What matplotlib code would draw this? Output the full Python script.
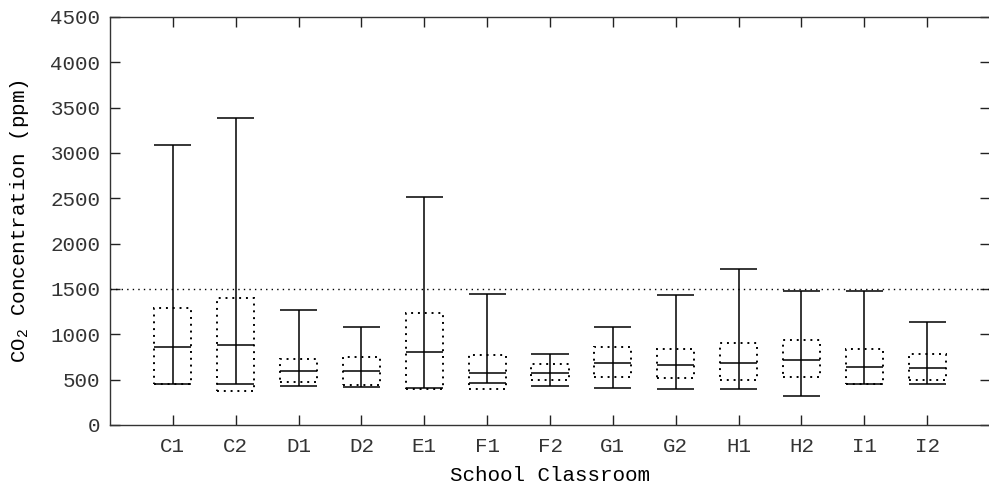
import numpy as np
import matplotlib
matplotlib.use("Agg")
import matplotlib.pyplot as plt

# CO2 concentration per classroom: min, lower quartile, median, upper quartile, max
rooms = ["C1", "C2", "D1", "D2", "E1", "F1", "F2", "G1", "G2", "H1", "H2", "I1", "I2"]
co2_min = [452, 449, 434, 419, 404, 460, 434, 404, 393, 393, 324, 449, 452]
co2_q1 = [450, 375, 478, 437, 393, 394, 496, 526, 515, 496, 526, 452, 496]
co2_median = [860, 882, 592, 592, 802, 577, 577, 688, 662, 688, 717, 643, 632]
co2_q3 = [1287, 1397, 724, 754, 1232, 772, 669, 857, 838, 901, 937, 838, 780]
co2_max = [3085, 3385, 1268, 1085, 2510, 1449, 787, 1085, 1437, 1721, 1482, 1482, 1140]
limit = 1500

plt.rcParams["font.family"] = ["Liberation Mono", "DejaVu Sans Mono"]
plt.rcParams["font.size"] = 15
plt.rcParams["mathtext.fontset"] = "custom"
plt.rcParams["mathtext.rm"] = "Liberation Mono"
plt.rcParams["text.color"] = "#333333"

fig = plt.figure(figsize=(9.89, 4.87), dpi=100)
ax = fig.add_axes([110 / 989, 62 / 487, 880 / 989, 408 / 487])

pos = np.arange(1, len(rooms) + 1)
w = 0.59

ax.axhline(limit, color="black", linestyle=(0, (1, 3)), linewidth=1.0)

# quartile boxes (dotted), median, whiskers with caps
ax.bar(pos, np.array(co2_q3) - np.array(co2_q1), bottom=co2_q1, width=w,
       fill=False, edgecolor="black", linestyle=(0, (1, 2.5)), linewidth=1.4)
ax.hlines(co2_median, pos - w / 2, pos + w / 2, color="black", linewidth=1.1)
ax.vlines(pos, co2_min, co2_max, color="black", linewidth=1.1)
ax.hlines(co2_min, pos - w / 2, pos + w / 2, color="black", linewidth=1.1)
ax.hlines(co2_max, pos - w / 2, pos + w / 2, color="black", linewidth=1.1)

ax.set_xlim(0, 14)
ax.set_ylim(0, 4500)
ax.set_xticks(pos)
ax.set_xticklabels(rooms)
ax.set_yticks(np.arange(0, 4501, 500))
ax.tick_params(direction="in", length=7, width=1, top=True, right=True,
               color="#222222", labelcolor="#333333")
ax.tick_params(axis="y", pad=7)
ax.tick_params(axis="x", pad=9)
for s in ax.spines.values():
    s.set_color("#333333")
    s.set_linewidth(1.0)

ax.set_xlabel("School Classroom", labelpad=7)
ax.set_ylabel("CO$_\\mathrm{2}$ Concentration (ppm)", labelpad=14)

fig.savefig("out.png", dpi=100)
